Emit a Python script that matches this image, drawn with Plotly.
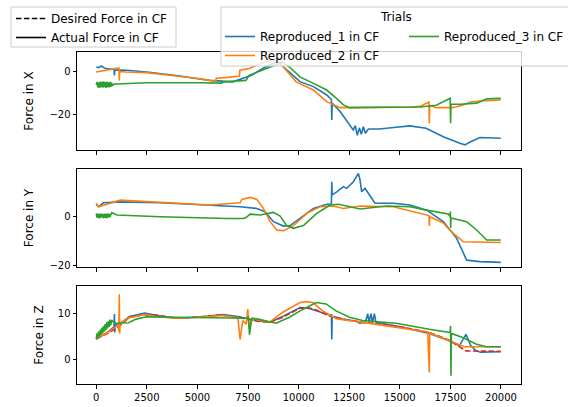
import plotly.graph_objects as go
from plotly.subplots import make_subplots

# ---------------------------------------------------------------- data
# Force in X
t_fx1 = [0, 120, 250, 450, 700, 880, 900, 920, 1500, 2500, 3950, 5600, 6750, 7250, 7650,
         8230, 8720, 9000, 9400, 10070, 10730, 11390, 11620, 11640, 11660, 12050, 12500,
         12700, 12800, 12900, 13000, 13100, 13200, 13300, 13450, 14000, 14700, 15500,
         16300, 17150, 17970, 18220, 18500, 18960, 19990]
fx1 = [2.3, 2.0, 2.8, 1.6, 1.4, 1.2, -1.6, 1.0, 0.8, 0.0, -1.6, -3.9, -4.6, -3.1, -1.6,
       1.6, 3.9, 4.5, 1.0, -4.5, -6.8, -10.7, -12.8, -22.3, -14.5, -18.4, -24.0,
       -27.0, -25.0, -29.5, -26.0, -29.0, -25.5, -28.5, -26.5, -26.5, -25.8, -25.1,
       -26.2, -30.1, -33.2, -33.9, -32.5, -30.5, -30.8]

t_fx2 = [0, 500, 1000, 1120, 1140, 1160, 1500, 2500, 3950, 5000, 5900, 5930, 6500, 7077,
         7100, 7570, 7900, 8560, 9000, 9400, 9880, 10730, 11390, 12050, 12500, 14000,
         15500, 16000, 16350, 16440, 16460, 16480, 16800, 17600, 18100, 18500, 19000, 19990]
fx2 = [0.0, 0.8, 1.6, 1.9, -3.9, 0.2, 0.0, -0.3, -1.9, -3.0, -4.3, -2.9, -2.5, -1.9,
       0.8, 1.6, 3.1, 5.4, 5.0, 0.5, -4.6, -8.4, -13.8, -16.6, -16.6, -16.5,
       -16.3, -16.0, -14.5, -14.0, -23.9, -15.5, -16.6, -16.6, -15.5, -14.0, -13.5, -13.0]

t_fx3 = [0, 40, 80, 120, 160, 200, 240, 280, 320, 360, 400, 440, 480, 520, 560, 600, 640,
         680, 720, 760, 820, 900, 1000, 2500, 5000, 6200, 6300, 7000, 7400, 7550, 8230,
         8890, 9200, 9550, 10070, 10730, 11390, 11900, 12214, 12500, 14000, 16000, 16800,
         17300, 17490, 17510, 17530, 18000, 18800, 19300, 19990]
fx3 = [-6.0, -4.6, -7.2, -4.8, -7.4, -4.5, -7.0, -4.6, -7.3, -4.4, -7.1, -4.7, -7.4, -4.5,
       -7.0, -4.8, -7.2, -4.6, -6.9, -5.0, -6.2, -5.6, -5.6, -5.0, -5.0, -5.2, -4.6, -4.2,
       -3.9, -1.6, 0.8, 3.1, 4.5, 2.3, -2.3, -5.3, -8.4, -12.5, -15.3, -16.6, -16.6,
       -16.3, -15.5, -13.0, -12.2, -23.9, -15.0, -15.0, -14.5, -12.5, -12.3]

# Force in Y
t_fy1 = [0, 115, 362, 1185, 3160, 5629, 7111, 7934, 8345, 8757, 9251, 9580, 10074, 10733,
         11392, 11620, 11640, 11660, 11884, 12214, 12379, 12707, 12954, 13036, 13118,
         13283, 13447, 13612, 13777, 14684, 15506, 16329, 17152, 17810, 18140, 18304,
         18963, 19990]
fy1 = [4.8, 3.8, 5.4, 5.8, 5.4, 4.5, 3.8, 3.1, 1.8, -2.3, -4.1, -3.9, -1.0, 3.1,
       4.8, 4.9, 14.0, 8.6, 9.9, 12.0, 11.3, 14.0, 17.4, 14.7, 9.9,
       11.3, 9.3, 7.2, 5.2, 5.2, 4.5, 2.4, -2.3, -9.1, -15.2, -18.0,
       -18.6, -18.9]

t_fy2 = [0, 115, 1185, 3160, 5629, 7111, 7193, 7605, 7934, 8263, 8592, 8922, 9251, 9745,
         10404, 11062, 11721, 12214, 13036, 14684, 16000, 16440, 16460, 16480, 17152,
         17317, 17646, 18140, 19990]
fy2 = [5.2, 3.8, 6.5, 5.6, 4.5, 5.4, 6.8, 7.6, 6.8, 3.1, -2.3, -5.7, -6.0, -3.9,
       1.1, 3.8, 4.1, 3.1, 4.1, 3.8, 1.1, 0.2, -4.1, -0.3, -2.8,
       -4.4, -7.1, -10.5, -10.8]

t_fy3 = [0, 40, 80, 120, 160, 200, 240, 280, 320, 360, 400, 440, 480, 520, 560, 600, 640,
         680, 720, 773, 1020, 3160, 6453, 7276, 7400, 7605, 8098, 8757, 9086, 9416, 9745,
         10239, 10897, 11556, 11968, 13036, 14355, 15506, 16329, 17400, 17490, 17500,
         17515, 17530, 18304, 18798, 19292, 19990]
fy3 = [1.1, -0.6, 1.0, -0.8, 0.9, -0.9, 1.1, -0.5, 0.8, -0.9, 1.0, -0.7, 0.9, -0.8, 1.1,
       -0.6, 0.9, -0.4, 0.6, 1.4, 0.4, -0.3, -1.0, -1.0, -0.6, 0.8, 0.4, 1.5, 0.0, -3.9,
       -5.0, -3.9, 1.1, 4.5, 4.8, 2.9, 4.1, 3.8, 2.4, 0.8, -0.3, 1.8,
       -4.9, -0.8, -2.3, -5.7, -9.8, -9.8]

# Force in Z
t_fz_des = [0, 658, 1152, 1646, 2305, 2963, 3950, 4773, 6090, 7077, 7901, 8559, 9218,
            10074, 10535, 10864, 11523, 12181, 13169, 14814, 16460, 17446, 18271, 19990]
fz_des = [4.5, 5.8, 7.2, 9.1, 9.6, 9.6, 8.9, 9.1, 9.6, 9.0, 8.3, 8.0, 9.1,
          11.1, 11.1, 10.7, 9.4, 8.7, 8.0, 7.2, 5.8, 4.1, 1.8, 1.7]

t_fz1 = [0, 600, 880, 900, 915, 935, 1150, 1646, 2400, 3000, 3950, 5000, 6300, 7077, 7900,
         8559, 9218, 10074, 10535, 11200, 11600, 11620, 11640, 11660, 12181, 12900, 13000,
         13300, 13415, 13480, 13580, 13650, 13745, 13820, 14814, 16460, 17446, 17940,
         18271, 18500, 18765, 19000, 19990]
fz1 = [4.3, 6.0, 7.0, 9.8, 5.8, 7.5, 7.6, 9.3, 10.0, 9.5, 8.9, 9.1, 9.7, 9.2, 8.4,
       8.0, 9.3, 11.2, 11.0, 10.0, 9.5, 9.8, 4.3, 9.3, 8.7, 8.2, 7.8,
       8.0, 9.9, 8.0, 9.9, 7.9, 9.9, 8.0, 7.2, 5.6, 4.0, 2.9,
       5.4, 3.0, 1.8, 1.5, 1.6]

t_fz2 = [0, 658, 1100, 1120, 1140, 1160, 1180, 1646, 2400, 3000, 3950, 5000, 6300, 7000,
         7111, 7240, 7407, 7490, 7540, 7700, 8559, 9218, 10074, 10370, 10700, 11194,
         11852, 13169, 14814, 16378, 16460, 16480, 17446, 18189, 19990]
fz2 = [4.5, 6.0, 7.5, 6.0, 14.1, 5.6, 7.8, 9.0, 9.7, 9.2, 8.9, 9.1, 9.5, 9.0,
       4.3, 8.4, 7.6, 10.9, 7.0, 8.8, 8.0, 10.2, 12.3, 12.5, 12.3, 10.5,
       8.8, 8.0, 7.0, 5.9, -2.9, 5.7, 4.0, 2.7, 2.7]

t_fz3 = [0, 40, 80, 120, 160, 200, 240, 280, 320, 360, 400, 440, 480, 520, 560, 600, 640,
         680, 720, 760, 900, 1152, 1600, 1975, 2469, 3950, 6453, 7450, 7520, 7572, 7650,
         7700, 8000, 8889, 9547, 10074, 10864, 11358, 11852, 12510, 13169, 14814, 16460,
         17490, 17510, 17530, 17550, 18106, 18765, 19259, 19990]
fz3 = [4.4, 5.6, 4.6, 6.0, 4.9, 6.4, 5.3, 6.8, 5.6, 7.2, 6.0, 7.6, 6.3, 8.0, 6.7, 8.3, 7.0,
       8.6, 7.4, 8.5, 7.8, 7.8, 7.9, 8.7, 9.2, 9.1, 8.9, 8.9, 9.1, 5.3, 7.8,
       8.9, 8.7, 7.8, 9.1, 10.5, 12.3, 12.0, 10.5, 9.1, 8.4, 7.8, 6.5,
       5.8, 7.2, -3.6, 5.6, 4.7, 3.3, 2.7, 2.7]

x_tick_vals = [0, 2500, 5000, 7500, 10000, 12500, 15000, 17500, 20000]
x_tick_text = ["0", "2500", "5000", "7500", "10000", "12500", "15000", "17500", "20000"]

trial_names = ["Reproduced_1 in CF", "Reproduced_2 in CF", "Reproduced_3 in CF"]
axis_titles = ["Force in X", "Force in Y", "Force in Z"]
legend_title = "Trials"

# ---------------------------------------------------------------- style
BLUE, ORANGE, GREEN, RED = "#1f77b4", "#ff7f0e", "#2ca02c", "#d62728"
FONT = "DejaVu Sans"
TICK_FS = 10
LABEL_FS = 12
LW = 1.6
DASH = "5.5px,2.4px"

# pixel geometry of the plotting area (figure 568 x 407)
L, R, T, B = 77, 521, 52, 384
PW, PH = R - L, B - T


def px_x(p):
    return (p - L) / PW


def px_y(p):
    return (B - p) / PH


fig = make_subplots(rows=3, cols=1, shared_xaxes=True)

series = {
    1: [(t_fx1, fx1), (t_fx2, fx2), (t_fx3, fx3)],
    2: [(t_fy1, fy1), (t_fy2, fy2), (t_fy3, fy3)],
    3: [(t_fz1, fz1), (t_fz2, fz2), (t_fz3, fz3)],
}
colors = [BLUE, ORANGE, GREEN]
trial_legend = ["legend2", "legend2", "legend3"]  # two columns of the trial key

for row in (1, 2, 3):
    for i, (tt, vv) in enumerate(series[row]):
        fig.add_trace(go.Scatter(
            x=tt, y=vv, mode="lines", name=trial_names[i],
            line=dict(color=colors[i], width=LW),
            legend=trial_legend[i], legendrank=i + 1,
            showlegend=(row == 1), hoverinfo="skip"),
            row=row, col=1)
        if row == 3 and i == 0:
            # desired force drawn over the first trial
            fig.add_trace(go.Scatter(
                x=t_fz_des, y=fz_des, mode="lines", name="Desired Fz",
                line=dict(color=RED, width=LW, dash=DASH),
                showlegend=False, hoverinfo="skip"),
                row=3, col=1)

# line-style key
fig.add_trace(go.Scatter(x=[None], y=[None], mode="lines", name="Desired Force in CF",
                         line=dict(color="black", width=LW, dash=DASH),
                         legend="legend", legendrank=1), row=1, col=1)
fig.add_trace(go.Scatter(x=[None], y=[None], mode="lines", name="Actual Force in CF",
                         line=dict(color="black", width=LW),
                         legend="legend", legendrank=2), row=1, col=1)

axis_common = dict(showline=True, linecolor="black", linewidth=1, mirror=True,
                   ticks="outside", ticklen=3.5, tickwidth=1, tickcolor="black",
                   showgrid=False, zeroline=False,
                   tickfont=dict(family=FONT, size=TICK_FS, color="black"))

domains = [[px_y(150), 1.0], [px_y(267), px_y(169)], [0.0, px_y(286)]]
y_ranges = [[-36.3, 9.3], [-20.8, 19.2], [-5.4, 15.9]]
y_ticks = [[-20, 0], [-20, 0], [0, 10]]
title_standoff = [13, 13, 11]

for r in range(3):
    fig.update_xaxes(axis_common, range=[-950, 20990], tickvals=x_tick_vals,
                     ticktext=x_tick_text, showticklabels=(r == 2), row=r + 1, col=1)
    fig.update_yaxes(axis_common, domain=domains[r], range=y_ranges[r],
                     tickvals=y_ticks[r],
                     title=dict(text=axis_titles[r], standoff=title_standoff[r],
                                font=dict(family=FONT, size=LABEL_FS, color="black")),
                     row=r + 1, col=1)

legend_plain = dict(bgcolor="rgba(0,0,0,0)", borderwidth=0, traceorder="normal",
                    xanchor="left", yanchor="top",
                    font=dict(family=FONT, size=LABEL_FS, color="black"))

# legend frames
frame = dict(type="rect", xref="paper", yref="paper", layer="above",
             fillcolor="rgba(255,255,255,0.8)", line=dict(color="#cccccc", width=1))
shapes = [
    dict(frame, x0=px_x(11), x1=px_x(176), y0=px_y(47), y1=px_y(7)),
    dict(frame, x0=px_x(221), x1=px_x(572), y0=px_y(66), y1=px_y(7)),
]

fig.update_layout(
    width=568, height=407,
    margin=dict(l=L, r=568 - R, t=T, b=407 - B, autoexpand=False),
    paper_bgcolor="white", plot_bgcolor="white",
    font=dict(family=FONT, size=TICK_FS, color="black"),
    shapes=shapes,
    legend=dict(legend_plain, x=px_x(11), y=px_y(4)),
    legend2=dict(legend_plain, x=px_x(220), y=px_y(22)),
    legend3=dict(legend_plain, x=px_x(404), y=px_y(22)),
    annotations=[dict(text=legend_title, xref="paper", yref="paper",
                      x=px_x(396), y=px_y(17), xanchor="center", yanchor="middle",
                      showarrow=False,
                      font=dict(family=FONT, size=LABEL_FS, color="black"))],
)

fig.write_html("out.html")
